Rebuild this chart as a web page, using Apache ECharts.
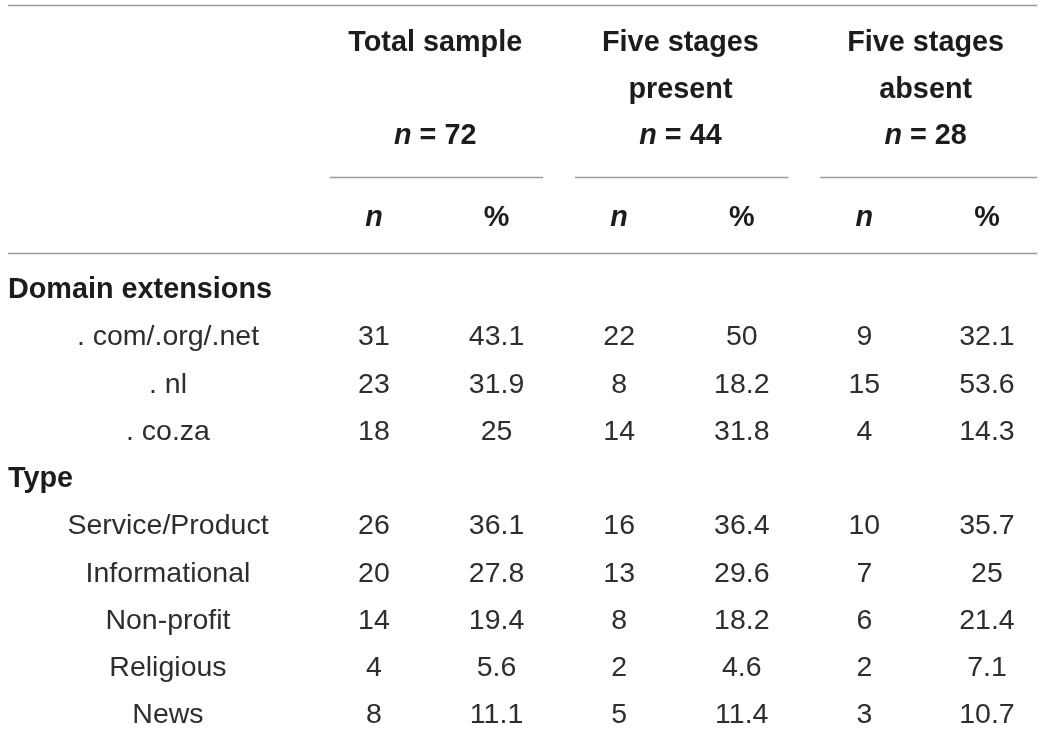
<!DOCTYPE html>
<html>
<head>
<meta charset="utf-8">
<script src="https://cdn.jsdelivr.net/npm/echarts@6/dist/echarts.min.js"></script>
<style>
  html, body { margin: 0; padding: 0; background: #ffffff; }
  #chart { width: 1043px; height: 731px; }
</style>
</head>
<body>
<div id="chart"></div>
<script>
// ---- Table content ----
var groupHeaderLine1 = ['Total sample', 'Five stages', 'Five stages'];
var groupHeaderLine2 = ['', 'present', 'absent'];
var groupHeaderN = [72, 44, 28];
var subHeaders = ['n', '%'];

var rowLabels = ['Domain extensions', '. com/.org/.net', '. nl', '. co.za',
                 'Type', 'Service/Product', 'Informational', 'Non-profit', 'Religious', 'News'];
var rowIsSection = [true, false, false, false, true, false, false, false, false, false];

var totalN      = [null, 31, 23, 18, null, 26, 20, 14, 4, 8];
var totalPct    = [null, '43.1', '31.9', '25', null, '36.1', '27.8', '19.4', '5.6', '11.1'];
var presentN    = [null, 22, 8, 14, null, 16, 13, 8, 2, 5];
var presentPct  = [null, '50', '18.2', '31.8', null, '36.4', '29.6', '18.2', '4.6', '11.4'];
var absentN     = [null, 9, 15, 4, null, 10, 7, 6, 2, 3];
var absentPct   = [null, '32.1', '53.6', '14.3', null, '35.7', '25', '21.4', '7.1', '10.7'];

// ---- Layout (table coordinate space: columns 1..6 are data columns, rows 0..9 are body rows) ----
var FONT = '"Liberation Sans", Arial, Helvetica, sans-serif';
var HEAD_SIZE = 28.8, BODY_SIZE = 28.5;
var labelLeftX = -1.985;     // left edge for section labels
var labelCenterX = -0.68;    // centre for item labels
var headerRowY = [-5.2, -4.21, -3.23];
var subHeaderY = -1.51;
var topRuleY = -6.02, groupRuleY = -2.37, headRuleY = -0.76;
var tableLeft = -1.985, tableRight = 6.41;
var groupRuleSpans = [[0.64, 2.38], [2.64, 4.38], [4.64, 6.41]];

var cells = [];   // [x, y, text, kind, align]
function addCell(x, y, text, kind, align) { cells.push([x, y, String(text), kind, align || 'center']); }

for (var g = 0; g < 3; g++) {
  var cx = 1.5 + g * 2;
  addCell(cx, headerRowY[0], groupHeaderLine1[g], 'head');
  if (groupHeaderLine2[g]) addCell(cx, headerRowY[1], groupHeaderLine2[g], 'head');
  addCell(cx, headerRowY[2], '{i|n} = ' + groupHeaderN[g], 'head');
  addCell(cx - 0.5, subHeaderY, '{i|' + subHeaders[0] + '}', 'head');
  addCell(cx + 0.5, subHeaderY, subHeaders[1], 'head');
}
var valueCols = [totalN, totalPct, presentN, presentPct, absentN, absentPct];
for (var r = 0; r < rowLabels.length; r++) {
  if (rowIsSection[r]) addCell(labelLeftX, r + 0.03, rowLabels[r], 'section', 'left');
  else addCell(labelCenterX, r + 0.03, rowLabels[r], 'body');
  for (var c = 0; c < valueCols.length; c++) {
    if (valueCols[c][r] !== null) addCell(c + 1, r + 0.03, valueCols[c][r], 'body');
  }
}

var rules = [[tableLeft, topRuleY, tableRight, topRuleY],
             [tableLeft, headRuleY, tableRight, headRuleY]];
groupRuleSpans.forEach(function (s) { rules.push([s[0], groupRuleY, s[1], groupRuleY]); });

var chart = echarts.init(document.getElementById('chart'), null, { renderer: 'canvas' });
chart.setOption({
  backgroundColor: '#ffffff',
  animation: false,
  grid: { left: 0, right: 0, top: 0, bottom: 0 },
  xAxis: { type: 'value', min: -2.05, max: 6.457, show: false },
  yAxis: { type: 'value', inverse: true, min: -6.12, max: 9.36, show: false },
  series: [
    {
      type: 'custom',
      data: rules,
      renderItem: function (params, api) {
        var a = api.coord([api.value(0), api.value(1)]);
        var b = api.coord([api.value(2), api.value(3)]);
        return {
          type: 'line',
          shape: { x1: a[0], y1: Math.round(a[1]) + 0.5, x2: b[0], y2: Math.round(b[1]) + 0.5 },
          style: { stroke: '#9a9a9a', lineWidth: 1.6 }
        };
      },
      silent: true
    },
    {
      type: 'custom',
      data: cells,
      dimensions: ['x', 'y', 'text', 'kind', 'align'],
      renderItem: function (params, api) {
        var item = cells[params.dataIndex];
        var p = api.coord([item[0], item[1]]);
        var bold = item[3] === 'head' || item[3] === 'section';
        var size = bold ? HEAD_SIZE : BODY_SIZE;
        return {
          type: 'text',
          x: p[0], y: p[1],
          style: {
            text: item[2],
            fill: bold ? '#1c1c1c' : '#2e2e2e',
            fontFamily: FONT,
            fontSize: size,
            fontWeight: bold ? 'bold' : 'normal',
            align: item[4],
            verticalAlign: 'middle',
            rich: {
              i: { fontFamily: FONT, fontSize: size, fontWeight: 'bold', fontStyle: 'italic', fill: '#1c1c1c' }
            }
          }
        };
      },
      silent: true
    }
  ]
});
</script>
</body>
</html>
